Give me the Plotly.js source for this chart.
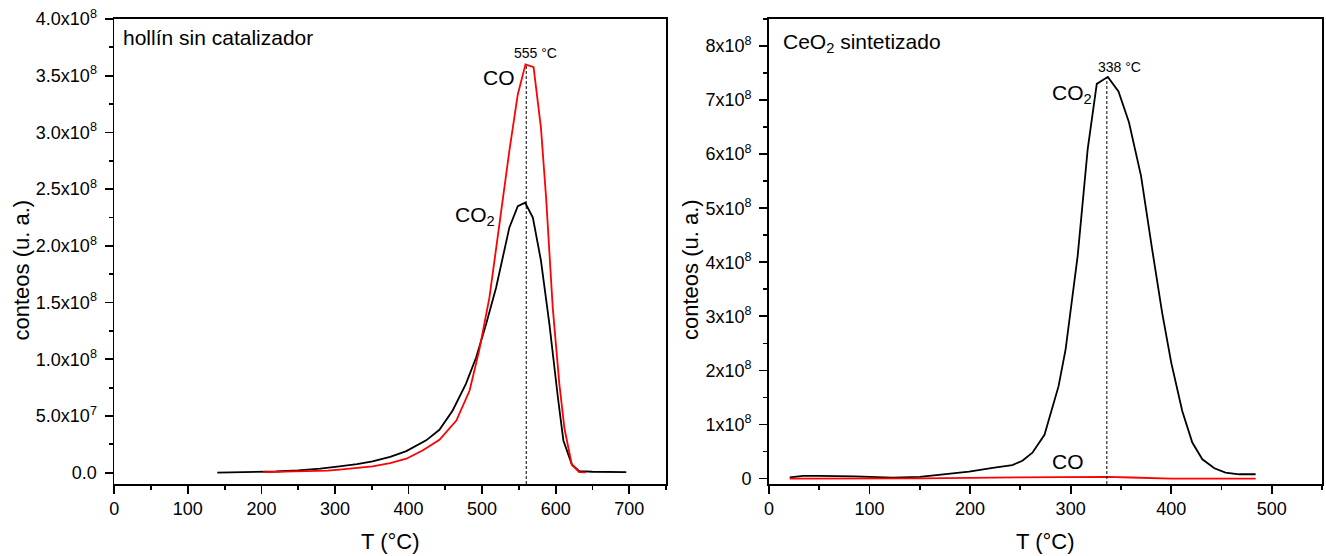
<!DOCTYPE html>
<html>
<head>
<meta charset="utf-8">
<script src="https://cdn.plot.ly/plotly-3.0.1.min.js"></script>
<style>html,body{margin:0;padding:0;background:#fff;}#chart{width:1326px;height:556px;}</style>
</head>
<body>
<div id="chart"></div>
<script>
// ---- Left panel: hollín sin catalizador (values in units of 1e8 counts)
const leftCO2_T = [140,160,190,220,250,280,306,330,351,375,397,424,442,460,478,492,505.5,519,537,548.5,558.5,569,580,591.5,603,610.5,622,632,650,675,696];
const leftCO2_V = [0.0,0.002,0.005,0.01,0.02,0.035,0.055,0.075,0.10,0.14,0.19,0.285,0.378,0.548,0.783,1.017,1.31,1.63,2.16,2.35,2.38,2.25,1.87,1.31,0.665,0.284,0.073,0.014,0.008,0.006,0.005];
const leftCO_T = [202,230,260,290,306,330,351,375,397,419,442,465,483,496,510,523.5,537,548.5,559,570,580,587,596,605,612,622,632,641];
const leftCO_V = [0.005,0.008,0.012,0.018,0.026,0.038,0.055,0.085,0.123,0.196,0.29,0.46,0.724,1.076,1.545,2.19,2.836,3.335,3.60,3.575,3.04,2.425,1.457,0.783,0.387,0.07,0.005,0.003];
const leftPeakT = 560, leftPeakV = 3.60, leftPeakLabel = "555 °C";

// ---- Right panel: CeO2 sintetizado (values in units of 1e8 counts)
const rightCO2_T = [20.6,34,50,67,85,100,123,150,176,199,222.5,242,252,262,274,282,288,295,307,317,326,337,347.6,358,370,381,391,400,411,421,431,443,454,467.5,484];
const rightCO2_V = [0.024,0.05,0.05,0.05,0.04,0.03,0.018,0.03,0.08,0.13,0.2,0.25,0.33,0.48,0.81,1.345,1.71,2.39,4.12,6.10,7.30,7.43,7.16,6.59,5.60,4.25,3.07,2.15,1.25,0.667,0.357,0.19,0.11,0.08,0.08];
const rightCO_T = [20.6,60,100,150,200,250,280,300,317,337,360,378,400,440,484];
const rightCO_V = [0.0,0.0,0.0,0.005,0.015,0.02,0.025,0.032,0.035,0.033,0.02,0.005,0.0,0.0,0.0];
const rightPeakT = 336, rightPeakV = 7.43, rightPeakLabel = "338 °C";

// ---- Tick labels
const leftXTicks = [0,100,200,300,400,500,600,700];
const leftYTickVals = [0,0.5,1.0,1.5,2.0,2.5,3.0,3.5,4.0];
const leftYTickText = ["0.0","5.0x10<sup>7</sup>","1.0x10<sup>8</sup>","1.5x10<sup>8</sup>","2.0x10<sup>8</sup>","2.5x10<sup>8</sup>","3.0x10<sup>8</sup>","3.5x10<sup>8</sup>","4.0x10<sup>8</sup>"];
const rightXTicks = [0,100,200,300,400,500];
const rightYTickVals = [0,1,2,3,4,5,6,7,8];
const rightYTickText = ["0","1x10<sup>8</sup>","2x10<sup>8</sup>","3x10<sup>8</sup>","4x10<sup>8</sup>","5x10<sup>8</sup>","6x10<sup>8</sup>","7x10<sup>8</sup>","8x10<sup>8</sup>"];

const FONT = "Liberation Sans";
const LW = 1.8;
const TICKSIZE = 18;

const traces = [
  {x:leftCO2_T, y:leftCO2_V, xaxis:'x', yaxis:'y', mode:'lines', line:{color:'#000', width:LW}, hoverinfo:'skip'},
  {x:leftCO_T, y:leftCO_V, xaxis:'x', yaxis:'y', mode:'lines', line:{color:'#ff0000', width:LW}, hoverinfo:'skip'},
  {x:rightCO2_T, y:rightCO2_V, xaxis:'x2', yaxis:'y2', mode:'lines', line:{color:'#000', width:LW}, hoverinfo:'skip'},
  {x:rightCO_T, y:rightCO_V, xaxis:'x2', yaxis:'y2', mode:'lines', line:{color:'#ff0000', width:LW}, hoverinfo:'skip'}
];

function xax(domain, range, ticks){
  return {domain:domain, range:range, showline:true, linecolor:'#000', linewidth:LW, mirror:true,
    ticks:'outside', ticklen:8, tickwidth:LW, tickcolor:'#000', tickmode:'array', tickvals:ticks,
    ticktext:ticks.map(String), showgrid:false, zeroline:false,
    tickfont:{family:FONT, size:TICKSIZE, color:'#000'},
    minor:{ticks:'outside', ticklen:4, tickwidth:LW, tickcolor:'#000', tickmode:'linear', tick0:0, dtick:50, showgrid:false}};
}
function yax(domain, range, vals, text, mdt){
  return {domain:domain, range:range, showline:true, linecolor:'#000', linewidth:LW, mirror:true,
    ticks:'outside', ticklen:8, tickwidth:LW, tickcolor:'#000', tickmode:'array', tickvals:vals, ticktext:text,
    ticklabelstandoff:4,
    showgrid:false, zeroline:false, tickfont:{family:FONT, size:TICKSIZE, color:'#000'},
    minor:{ticks:'outside', ticklen:4, tickwidth:LW, tickcolor:'#000', tickmode:'linear', tick0:0, dtick:mdt, showgrid:false}};
}

const ydom = [1-484/556, 1-19/556];
const layout = {
  width:1326, height:556, margin:{l:0,r:0,t:0,b:0}, paper_bgcolor:'#fff', plot_bgcolor:'#fff',
  showlegend:false, font:{family:FONT, size:TICKSIZE, color:'#000'},
  xaxis: xax([114.3/1326, 666/1326], [0,750], leftXTicks),
  yaxis: yax(ydom, [-0.1,4.0], leftYTickVals, leftYTickText, 0.25),
  xaxis2: Object.assign(xax([769/1326, 1322/1326], [0,550], rightXTicks), {anchor:'y2'}),
  yaxis2: Object.assign(yax(ydom, [-0.1,8.5], rightYTickVals, rightYTickText, 0.5), {anchor:'x2'}),
  shapes:[
    {type:'line', xref:'x', yref:'y', x0:leftPeakT, x1:leftPeakT, y0:-0.1, y1:leftPeakV, line:{color:'#000', width:1, dash:'3px,2px'}},
    {type:'line', xref:'x2', yref:'y2', x0:rightPeakT, x1:rightPeakT, y0:-0.1, y1:rightPeakV, line:{color:'#000', width:1, dash:'3px,2px'}}
  ],
  annotations:[
    {xref:'x', yref:'y', x:9.4, y:3.84, xanchor:'left', yanchor:'middle', text:'hollín sin catalizador', showarrow:false, font:{family:FONT, size:21, color:'#000'}},
    {xref:'x', yref:'y', x:523.6, y:3.48, xanchor:'center', yanchor:'middle', text:'CO', showarrow:false, font:{family:FONT, size:21, color:'#000'}},
    {xref:'x', yref:'y', x:491, y:2.26, xanchor:'center', yanchor:'middle', text:'CO<sub>2</sub>', showarrow:false, font:{family:FONT, size:21, color:'#000'}},
    {xref:'x', yref:'y', x:572.5, y:3.70, xanchor:'center', yanchor:'middle', text:leftPeakLabel, showarrow:false, font:{family:FONT, size:14, color:'#000'}},
    {xref:'x2', yref:'y2', x:12.3, y:8.06, xanchor:'left', yanchor:'middle', text:'CeO<sub>2</sub> sintetizado', showarrow:false, font:{family:FONT, size:21, color:'#000'}},
    {xref:'x2', yref:'y2', x:348.4, y:7.61, xanchor:'center', yanchor:'middle', text:rightPeakLabel, showarrow:false, font:{family:FONT, size:14, color:'#000'}},
    {xref:'x2', yref:'y2', x:301.6, y:7.12, xanchor:'center', yanchor:'middle', text:'CO<sub>2</sub>', showarrow:false, font:{family:FONT, size:21, color:'#000'}},
    {xref:'x2', yref:'y2', x:297, y:0.31, xanchor:'center', yanchor:'middle', text:'CO', showarrow:false, font:{family:FONT, size:21, color:'#000'}},
    {xref:'paper', yref:'paper', x:20.5/1326, y:1-270/556, xanchor:'center', yanchor:'middle', textangle:-90, text:'conteos (u. a.)', showarrow:false, font:{family:FONT, size:22, color:'#000'}},
    {xref:'paper', yref:'paper', x:690/1326, y:1-270/556, xanchor:'center', yanchor:'middle', textangle:-90, text:'conteos (u. a.)', showarrow:false, font:{family:FONT, size:22, color:'#000'}},
    {xref:'paper', yref:'paper', x:390/1326, y:1-541.7/556, xanchor:'center', yanchor:'middle', text:'T (°C)', showarrow:false, font:{family:FONT, size:22, color:'#000'}},
    {xref:'paper', yref:'paper', x:1045.5/1326, y:1-541.7/556, xanchor:'center', yanchor:'middle', text:'T (°C)', showarrow:false, font:{family:FONT, size:22, color:'#000'}}
  ]
};

Plotly.newPlot('chart', traces, layout, {staticPlot:true, displayModeBar:false});
</script>
</body>
</html>
